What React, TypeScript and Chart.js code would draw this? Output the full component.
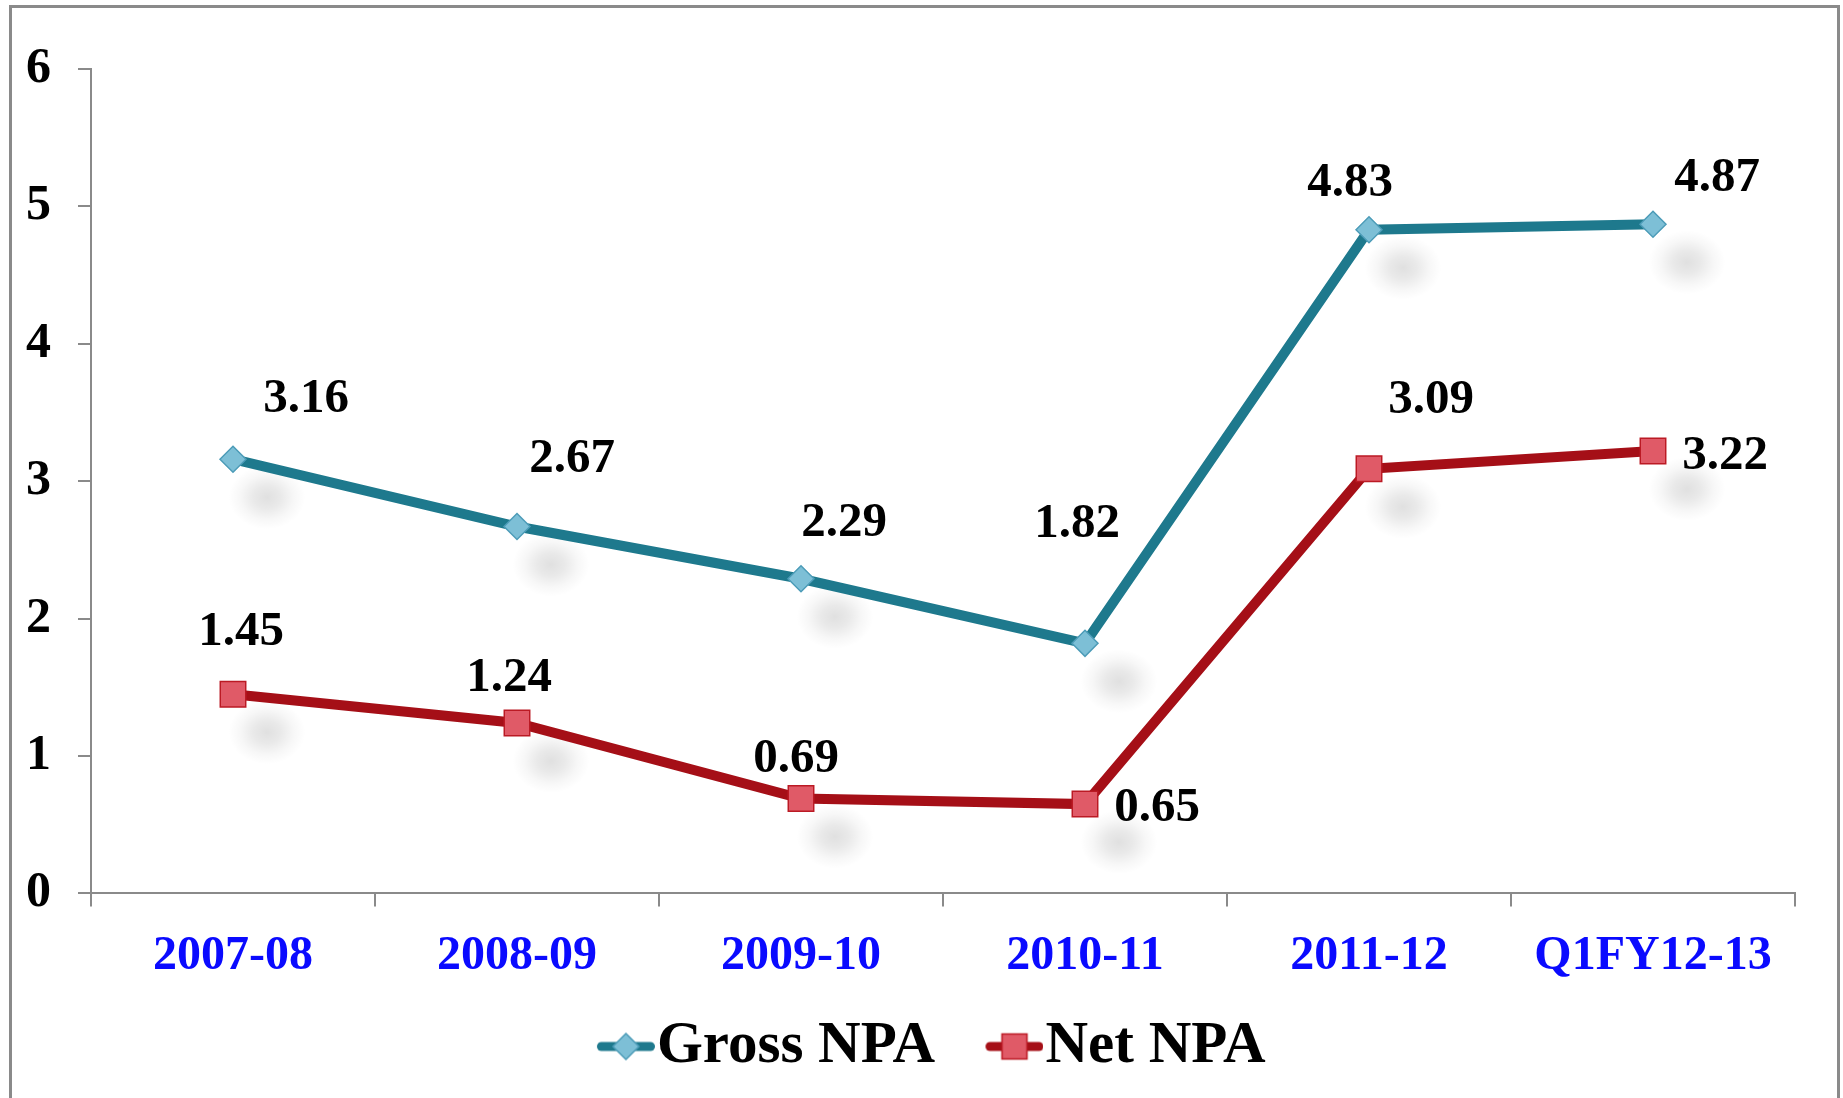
import React, { useEffect, useRef } from "react";
import { Chart, registerables } from "chart.js";

Chart.register(...registerables);

const categories = ["2007-08", "2008-09", "2009-10", "2010-11", "2011-12", "Q1FY12-13"];
const grossNPA = [3.16, 2.67, 2.29, 1.82, 4.83, 4.87];
const netNPA = [1.45, 1.24, 0.69, 0.65, 3.09, 3.22];
const yTicks = [0, 1, 2, 3, 4, 5, 6];

// label placement offsets (pixels, relative to each point)
const grossLabelOffsets = [[73, -60], [55, -67], [43, -55], [-8, -119], [-19, -46], [64, -46]];
const netLabelOffsets = [[8, -62], [-8, -45], [-5, -39], [72, 4], [62, -68], [72, 5]];

const FONT = "'Liberation Serif', 'Times New Roman', serif";
const GROSS_LINE = "#1e798d";
const GROSS_FILL = "#7dbfd6";
const GROSS_EDGE = "#4d9cb8";
const NET_LINE = "#a50f17";
const NET_FILL = "#e05a67";
const NET_EDGE = "#bb1a24";

// legend geometry
const LEGEND_BOX_W = 70;
const LEGEND_PAD = 11;
const LEGEND_SHIFT = 14;

function makeLegendIcon(kind: "diamond" | "square"): HTMLCanvasElement {
  const imgW = LEGEND_BOX_W + 55;
  const c = document.createElement("canvas");
  c.width = imgW;
  c.height = 32;
  const g = c.getContext("2d")!;
  const x1 = imgW - 58;
  const x2 = imgW;
  const mid = (x1 + x2) / 2;
  g.lineCap = "round";
  g.lineWidth = 9;
  g.strokeStyle = kind === "diamond" ? GROSS_LINE : NET_LINE;
  g.beginPath();
  g.moveTo(x1 + 4.5, 16);
  g.lineTo(x2 - 4.5, 16);
  g.stroke();
  g.lineWidth = 1.5;
  if (kind === "diamond") {
    g.fillStyle = GROSS_FILL;
    g.strokeStyle = GROSS_EDGE;
    g.beginPath();
    g.moveTo(mid, 3);
    g.lineTo(mid + 13, 16);
    g.lineTo(mid, 29);
    g.lineTo(mid - 13, 16);
    g.closePath();
    g.fill();
    g.stroke();
  } else {
    g.fillStyle = NET_FILL;
    g.strokeStyle = NET_EDGE;
    g.fillRect(mid - 12.5, 3.5, 25, 25);
    g.strokeRect(mid - 12.5, 3.5, 25, 25);
  }
  return c;
}

const framePlugin = {
  id: "frame",
  beforeDraw(chart: any) {
    const ctx = chart.ctx;
    ctx.save();
    ctx.fillStyle = "#ffffff";
    ctx.fillRect(0, 0, chart.width, chart.height);
    ctx.strokeStyle = "#8a8a8a";
    ctx.lineWidth = 3;
    ctx.strokeRect(10.5, 6.5, 1828, 1200);
    ctx.restore();
  },
};

const legendShiftPlugin = {
  id: "legendShift",
  afterLayout(chart: any) {
    if (chart.legend) {
      chart.legend.left += LEGEND_SHIFT;
      chart.legend.right += LEGEND_SHIFT;
    }
  },
};

const shadowPlugin = {
  id: "pointShadows",
  beforeDatasetsDraw(chart: any) {
    const ctx = chart.ctx;
    chart.data.datasets.forEach((_d: any, i: number) => {
      const meta = chart.getDatasetMeta(i);
      meta.data.forEach((pt: any) => {
        ctx.save();
        ctx.translate(pt.x + 34, pt.y + 38);
        ctx.scale(1.2, 1);
        const grad = ctx.createRadialGradient(0, 0, 0, 0, 0, 32);
        grad.addColorStop(0, "rgba(0,0,0,0.12)");
        grad.addColorStop(0.35, "rgba(0,0,0,0.085)");
        grad.addColorStop(0.7, "rgba(0,0,0,0.03)");
        grad.addColorStop(1, "rgba(0,0,0,0)");
        ctx.fillStyle = grad;
        ctx.beginPath();
        ctx.arc(0, 0, 32, 0, Math.PI * 2);
        ctx.fill();
        ctx.restore();
      });
    });
  },
};

const labelPlugin = {
  id: "valueLabels",
  afterDatasetsDraw(chart: any) {
    const ctx = chart.ctx;
    const offsets = [grossLabelOffsets, netLabelOffsets];
    ctx.save();
    ctx.font = `bold 49px ${FONT}`;
    ctx.fillStyle = "#000000";
    ctx.textAlign = "center";
    ctx.textBaseline = "middle";
    chart.data.datasets.forEach((ds: any, i: number) => {
      const meta = chart.getDatasetMeta(i);
      meta.data.forEach((pt: any, j: number) => {
        const [dx, dy] = offsets[i][j];
        ctx.fillText(ds.data[j].toFixed(2), pt.x + dx, pt.y + dy);
      });
    });
    ctx.restore();
  },
};

export default function App() {
  const ref = useRef<HTMLCanvasElement | null>(null);

  useEffect(() => {
    if (!ref.current) return;
    const grossIcon = makeLegendIcon("diamond");
    const netIcon = makeLegendIcon("square");
    const chart = new Chart(ref.current, {
      type: "line",
      data: {
        labels: categories,
        datasets: [
          {
            label: "Gross NPA",
            data: grossNPA,
            borderColor: GROSS_LINE,
            borderWidth: 10,
            pointStyle: "rectRot",
            pointRadius: 13,
            pointBackgroundColor: GROSS_FILL,
            pointBorderColor: GROSS_EDGE,
            pointBorderWidth: 1.5,
            tension: 0,
          },
          {
            label: "Net NPA",
            data: netNPA,
            borderColor: NET_LINE,
            borderWidth: 10,
            pointStyle: "rect",
            pointRadius: 18,
            pointBackgroundColor: NET_FILL,
            pointBorderColor: NET_EDGE,
            pointBorderWidth: 1.5,
            tension: 0,
          },
        ],
      },
      options: {
        responsive: false,
        animation: false,
        devicePixelRatio: 1,
        layout: { padding: { top: 69, left: 0, right: 48, bottom: 12 } },
        plugins: {
          tooltip: { enabled: false },
          legend: {
            position: "bottom",
            labels: {
              usePointStyle: true,
              pointStyleWidth: LEGEND_BOX_W,
              padding: LEGEND_PAD,
              color: "#000000",
              font: { family: FONT, size: 59, weight: "bold" },
              generateLabels: () => [
                { text: "Gross NPA", pointStyle: grossIcon, fillStyle: GROSS_LINE, strokeStyle: GROSS_LINE, lineWidth: 0, hidden: false, datasetIndex: 0 },
                { text: "Net NPA", pointStyle: netIcon, fillStyle: NET_LINE, strokeStyle: NET_LINE, lineWidth: 0, hidden: false, datasetIndex: 1 },
              ] as any,
            },
          },
        },
        scales: {
          x: {
            offset: true,
            grid: {
              display: true,
              drawOnChartArea: false,
              drawTicks: true,
              tickLength: 13,
              color: "#8a8a8a",
              lineWidth: 2,
              offset: true,
            },
            border: { display: true, color: "#8a8a8a", width: 2 },
            ticks: {
              color: "#0a0aff",
              font: { family: FONT, size: 48, weight: "bold" },
              padding: 21,
              maxRotation: 0,
              autoSkip: false,
            },
          },
          y: {
            min: 0,
            max: 6,
            afterBuildTicks: (scale: any) => {
              scale.ticks = yTicks.map((v) => ({ value: v }));
            },
            afterFit: (scale: any) => {
              scale.width = 91;
            },
            grid: {
              display: true,
              drawOnChartArea: false,
              drawTicks: true,
              tickLength: 13,
              color: "#8a8a8a",
              lineWidth: 2,
            },
            border: { display: true, color: "#8a8a8a", width: 2 },
            ticks: {
              color: "#000000",
              font: { family: FONT, size: 50, weight: "bold" },
              padding: 27,
            },
          },
        },
      },
      plugins: [framePlugin, legendShiftPlugin, shadowPlugin, labelPlugin],
    });
    return () => chart.destroy();
  }, []);

  return (
    <div style={{ position: "absolute", left: 0, top: 0, width: 1843, height: 1098, background: "#fff" }}>
      <canvas ref={ref} width={1843} height={1098} style={{ width: 1843, height: 1098, display: "block" }} />
    </div>
  );
}
